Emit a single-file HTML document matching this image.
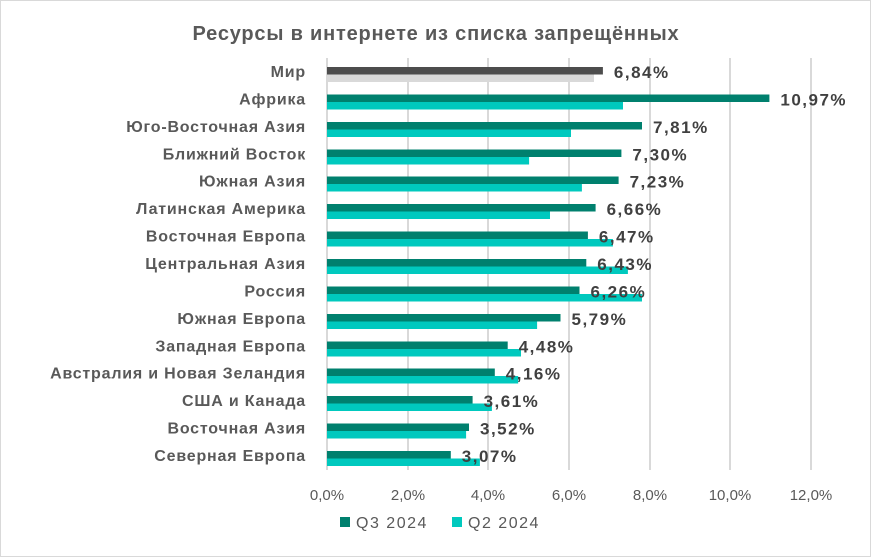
<!DOCTYPE html>
<html><head><meta charset="utf-8"><style>body{margin:0;background:#fff}svg{display:block}text{font-family:"Liberation Sans",sans-serif}</style></head><body>
<svg width="871" height="557" xmlns="http://www.w3.org/2000/svg">
<rect x="0.5" y="0.5" width="870" height="556" fill="#fff" stroke="#d9d9d9"/>
<text x="436" y="40" text-anchor="middle" font-size="20" font-weight="bold" letter-spacing="0.8" fill="#595959">Ресурсы в интернете из списка запрещённых</text>
<g stroke="#d9d9d9" stroke-width="2">
<line x1="327" y1="58" x2="327" y2="470"/><line x1="408" y1="58" x2="408" y2="470"/><line x1="488" y1="58" x2="488" y2="470"/><line x1="569" y1="58" x2="569" y2="470"/><line x1="650" y1="58" x2="650" y2="470"/><line x1="730" y1="58" x2="730" y2="470"/><line x1="811" y1="58" x2="811" y2="470"/>
</g>
<g font-size="15" fill="#595959" text-anchor="middle">
<text x="327" y="500">0,0%</text><text x="408" y="500">2,0%</text><text x="488" y="500">4,0%</text><text x="569" y="500">6,0%</text><text x="650" y="500">8,0%</text><text x="730" y="500">10,0%</text><text x="811" y="500">12,0%</text>
</g>
<g>
<rect x="327" y="67" width="275.9" height="7.5" fill="#4d4d4d"/><rect x="327" y="74.5" width="267" height="7.5" fill="#d9d9d9"/>
<rect x="327" y="94.5" width="442.4" height="7.5" fill="#00806e"/><rect x="327" y="102" width="296" height="7.5" fill="#00c9be"/>
<rect x="327" y="122" width="315" height="7.5" fill="#00806e"/><rect x="327" y="129.5" width="244" height="7.5" fill="#00c9be"/>
<rect x="327" y="149.5" width="294.4" height="7.5" fill="#00806e"/><rect x="327" y="157" width="202.1" height="7.5" fill="#00c9be"/>
<rect x="327" y="176.5" width="291.6" height="7.5" fill="#00806e"/><rect x="327" y="184" width="254.9" height="7.5" fill="#00c9be"/>
<rect x="327" y="204" width="268.6" height="7.5" fill="#00806e"/><rect x="327" y="211.5" width="223" height="7.5" fill="#00c9be"/>
<rect x="327" y="231.5" width="260.9" height="7.5" fill="#00806e"/><rect x="327" y="239" width="285.9" height="7.5" fill="#00c9be"/>
<rect x="327" y="259" width="259.3" height="7.5" fill="#00806e"/><rect x="327" y="266.5" width="300.9" height="7.5" fill="#00c9be"/>
<rect x="327" y="286.5" width="252.5" height="7.5" fill="#00806e"/><rect x="327" y="294" width="315" height="7.5" fill="#00c9be"/>
<rect x="327" y="314" width="233.5" height="7.5" fill="#00806e"/><rect x="327" y="321.5" width="210.1" height="7.5" fill="#00c9be"/>
<rect x="327" y="341.5" width="180.7" height="7.5" fill="#00806e"/><rect x="327" y="349" width="194" height="7.5" fill="#00c9be"/>
<rect x="327" y="368.5" width="167.8" height="7.5" fill="#00806e"/><rect x="327" y="376" width="191.2" height="7.5" fill="#00c9be"/>
<rect x="327" y="396" width="145.6" height="7.5" fill="#00806e"/><rect x="327" y="403.5" width="164.9" height="7.5" fill="#00c9be"/>
<rect x="327" y="423.5" width="142" height="7.5" fill="#00806e"/><rect x="327" y="431" width="139.1" height="7.5" fill="#00c9be"/>
<rect x="327" y="451" width="123.8" height="7.5" fill="#00806e"/><rect x="327" y="458.5" width="152.9" height="7.5" fill="#00c9be"/>
</g>
<g font-size="16" font-weight="bold" fill="#595959" text-anchor="end" letter-spacing="0.8">
<text x="306" y="77">Мир</text>
<text x="306" y="104.5">Африка</text>
<text x="306" y="132">Юго-Восточная Азия</text>
<text x="306" y="159.5">Ближний Восток</text>
<text x="306" y="186.5">Южная Азия</text>
<text x="306" y="214">Латинская Америка</text>
<text x="306" y="241.5">Восточная Европа</text>
<text x="306" y="269">Центральная Азия</text>
<text x="306" y="296.5">Россия</text>
<text x="306" y="324">Южная Европа</text>
<text x="306" y="351.5">Западная Европа</text>
<text x="306" y="378.5">Австралия и Новая Зеландия</text>
<text x="306" y="406">США и Канада</text>
<text x="306" y="433.5">Восточная Азия</text>
<text x="306" y="461">Северная Европа</text>
</g>
<g font-size="17" font-weight="bold" fill="#404040" letter-spacing="1.5">
<text x="613.9" y="78">6,84%</text>
<text x="780.4" y="105.5">10,97%</text>
<text x="653" y="133">7,81%</text>
<text x="632.4" y="160.5">7,30%</text>
<text x="629.6" y="187.5">7,23%</text>
<text x="606.6" y="215">6,66%</text>
<text x="598.9" y="242.5">6,47%</text>
<text x="597.3" y="270">6,43%</text>
<text x="590.5" y="297.5">6,26%</text>
<text x="571.5" y="325">5,79%</text>
<text x="518.7" y="352.5">4,48%</text>
<text x="505.8" y="379.5">4,16%</text>
<text x="483.6" y="407">3,61%</text>
<text x="480" y="434.5">3,52%</text>
<text x="461.8" y="462">3,07%</text>
</g>
<rect x="340" y="517" width="10" height="10" fill="#00806e"/><text x="356" y="528" font-size="16" letter-spacing="1.5" fill="#595959">Q3 2024</text>
<rect x="452" y="517" width="10" height="10" fill="#00c9be"/><text x="468" y="528" font-size="16" letter-spacing="1.5" fill="#595959">Q2 2024</text>
</svg>
</body></html>
